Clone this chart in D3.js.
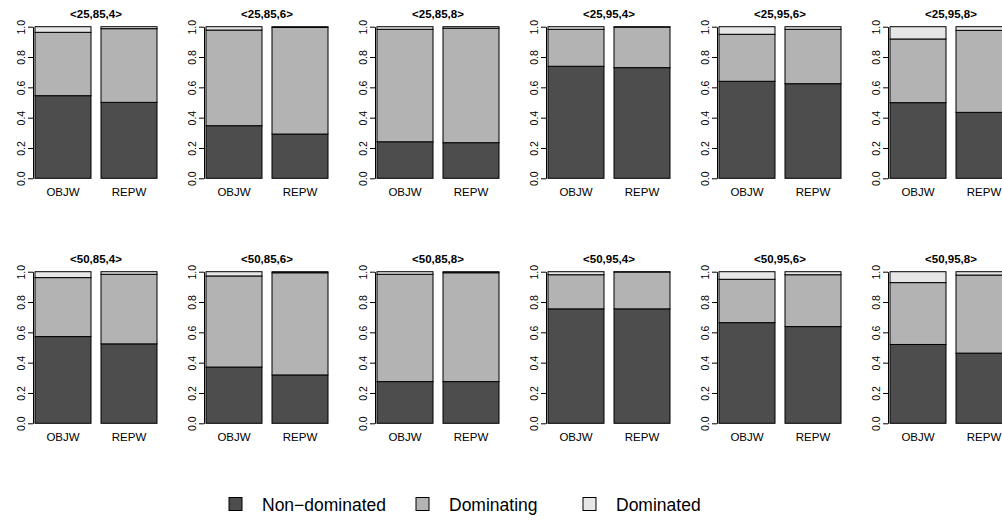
<!DOCTYPE html>
<html>
<head>
<meta charset="utf-8">
<script src="https://cdn.jsdelivr.net/npm/d3@7"></script>
<style>
  html, body { margin: 0; padding: 0; background: #fff; }
  svg { display: block; font-family: "Liberation Sans", Arial, Helvetica, sans-serif; }
</style>
</head>
<body>
<svg id="chart" width="1002" height="520"></svg>
<script>
// Scenario labels <agents, threshold, size>
const categories = ["<25,85,4>", "<25,85,6>", "<25,85,8>", "<25,95,4>", "<25,95,6>", "<25,95,8>",
                    "<50,85,4>", "<50,85,6>", "<50,85,8>", "<50,95,4>", "<50,95,6>", "<50,95,8>"];
const methods = ["OBJW", "REPW"];
const groups = ["Non\u2212dominated", "Dominating", "Dominated"];

// Share of solutions in each class, per scenario
const objwNonDominated = [0.545, 0.347, 0.241, 0.739, 0.640, 0.499, 0.572, 0.371, 0.275, 0.755, 0.664, 0.520];
const objwDominating   = [0.418, 0.631, 0.742, 0.244, 0.310, 0.420, 0.389, 0.601, 0.708, 0.225, 0.286, 0.408];
const objwDominated    = [0.037, 0.022, 0.017, 0.017, 0.050, 0.081, 0.039, 0.028, 0.017, 0.020, 0.050, 0.072];
const repwNonDominated = [0.501, 0.292, 0.235, 0.730, 0.624, 0.435, 0.524, 0.319, 0.275, 0.755, 0.638, 0.463];
const repwDominating   = [0.486, 0.703, 0.755, 0.267, 0.359, 0.541, 0.459, 0.674, 0.718, 0.243, 0.342, 0.515];
const repwDominated    = [0.013, 0.005, 0.010, 0.003, 0.017, 0.024, 0.017, 0.007, 0.007, 0.002, 0.020, 0.022];

const tickValues = [0, 0.2, 0.4, 0.6, 0.8, 1.0];
const tickLabels = ["0.0", "0.2", "0.4", "0.6", "0.8", "1.0"];

const fills = ["#4d4d4d", "#b3b3b3", "#e6e6e6"];

const svg = d3.select("#chart");
svg.append("rect").attr("width", 1002).attr("height", 520).attr("fill", "#fff");

const series = {
  OBJW: [objwNonDominated, objwDominating, objwDominated],
  REPW: [repwNonDominated, repwDominating, repwDominated]
};

const panelStep = 171, rowStep = 245, nCols = 6;
const color = d3.scaleOrdinal().domain(groups).range(fills);

categories.forEach((cat, i) => {
  const col = i % nCols, row = Math.floor(i / nCols);
  const g = svg.append("g").attr("transform", `translate(${col * panelStep},${row * rowStep})`);

  const x = d3.scaleBand().domain(methods).range([35, 157]).paddingInner(10 / 66).paddingOuter(0);
  const y = d3.scaleLinear().domain([0, 1]).range([178.3, 26.7]);

  // stacked rows for this scenario
  const rows = methods.map(m => {
    const r = { method: m };
    groups.forEach((k, j) => { r[k] = series[m][j][i]; });
    return r;
  });
  const stacked = d3.stack().keys(groups)(rows);

  g.selectAll("g.layer").data(stacked).join("g")
    .attr("class", "layer")
    .attr("fill", d => color(d.key))
    .selectAll("rect").data(d => d).join("rect")
      .attr("x", d => x(d.data.method))
      .attr("width", x.bandwidth())
      .attr("y", d => y(d[1]))
      .attr("height", d => y(d[0]) - y(d[1]))
      .attr("stroke", "#000")
      .attr("stroke-width", 1);

  // y axis
  const axis = d3.axisLeft(y).tickValues(tickValues)
    .tickFormat((d, k) => tickLabels[k]).tickSize(5).tickSizeOuter(0);
  const ax = g.append("g").attr("transform", "translate(33,0)").call(axis);
  ax.select(".domain").attr("stroke", "#000");
  ax.selectAll(".tick line").attr("stroke", "#000");
  ax.selectAll(".tick text")
    .attr("x", null).attr("dy", null)
    .attr("transform", "translate(-8.5,0) rotate(-90)")
    .attr("text-anchor", "middle")
    .attr("fill", "#000")
    .style("font-size", "10.5px")
    .style("font-family", "'Liberation Sans', Arial, sans-serif");

  // method labels
  g.selectAll("text.method").data(methods).join("text")
    .attr("class", "method")
    .attr("x", d => x(d) + x.bandwidth() / 2)
    .attr("y", 196)
    .attr("text-anchor", "middle")
    .style("font-size", "11.5px")
    .text(d => d);

  // panel title
  g.append("text")
    .attr("x", (x.range()[0] + x.range()[1]) / 2)
    .attr("y", 18)
    .attr("text-anchor", "middle")
    .style("font-size", "11.5px")
    .style("font-weight", "bold")
    .text(cat);
});

// legend
const legendX = [229, 416, 583];
const legend = svg.append("g").attr("transform", "translate(0,504)");
const items = legend.selectAll("g").data(groups).join("g")
  .attr("transform", (d, k) => `translate(${legendX[k]},0)`);
items.append("rect")
  .attr("x", 0).attr("y", -6.5).attr("width", 13).attr("height", 13)
  .attr("fill", d => color(d)).attr("stroke", "#000").attr("stroke-width", 1);
items.append("text")
  .attr("x", 33).attr("y", 6.5)
  .style("font-size", "17.5px")
  .text(d => d);
</script>
</body>
</html>
